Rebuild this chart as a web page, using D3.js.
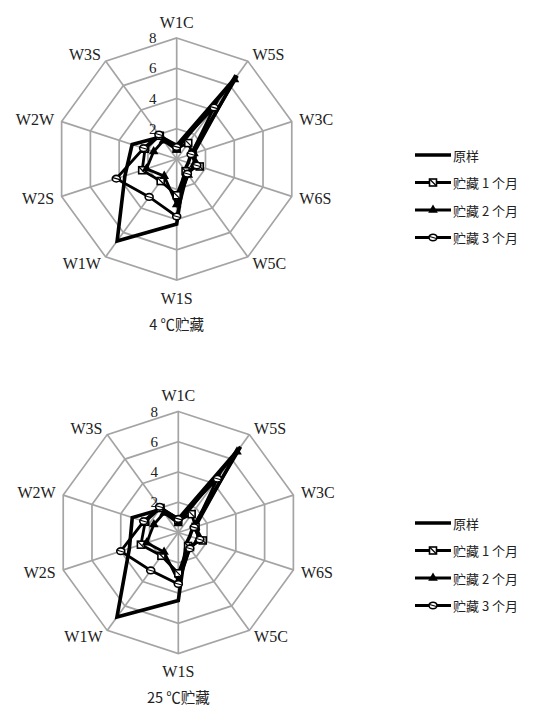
<!DOCTYPE html>
<html>
<head>
<meta charset="utf-8">
<script src="https://cdn.jsdelivr.net/npm/d3@7/dist/d3.min.js"></script>
<style>
  html, body { margin: 0; padding: 0; background: #fff; }
  svg { display: block; }
  text { font-family: "Liberation Serif", "DejaVu Serif", serif; fill: #222; }
  .cjk { font-family: "Noto Sans CJK SC", sans-serif; }
</style>
</head>
<body>
<script>
// Axes, clockwise from the top
const axes = ["W1C", "W5S", "W3C", "W6S", "W5C", "W1S", "W1W", "W2S", "W2W", "W3S"];
const seriesNames = ["原样", "贮藏 1 个月", "贮藏 2 个月", "贮藏 3 个月"];
const tickValues = [2, 4, 6, 8];
const maxValue = 8;

// 4 ℃ storage
const cold_original = [0.9, 6.8, 1.0, 0.8, 0.9, 4.3, 6.7, 3.6, 3.1, 1.8];
const cold_month1   = [0.7, 1.3, 1.1, 1.6, 1.0, 2.4, 1.8, 2.4, 2.2, 1.9];
const cold_month2   = [0.6, 6.5, 1.2, 1.2, 1.3, 3.0, 1.4, 2.1, 1.6, 1.5];
const cold_month3   = [0.8, 4.2, 1.0, 1.4, 1.2, 3.8, 3.1, 4.2, 2.3, 2.0];

// 25 ℃ storage
const warm_original = [0.9, 7.0, 1.0, 0.8, 0.9, 4.5, 6.9, 3.4, 3.2, 1.9];
const warm_month1   = [0.8, 1.5, 1.2, 1.7, 1.1, 2.7, 1.9, 2.6, 2.3, 2.0];
const warm_month2   = [0.6, 6.6, 1.2, 1.4, 1.3, 3.2, 1.6, 2.2, 1.7, 1.6];
const warm_month3   = [0.9, 4.4, 1.1, 1.5, 1.3, 3.4, 3.1, 4.0, 2.4, 2.1];

const captions = ["4 ℃贮藏", "25 ℃贮藏"];

const W = 537, H = 715;
const svg = d3.select("body").append("svg").attr("width", W).attr("height", H);

const R = 121;
const angle = d3.scaleBand().domain(axes).range([0, 2 * Math.PI]).align(0).paddingInner(0).paddingOuter(0);
const rScale = d3.scaleLinear().domain([0, maxValue]).range([0, R]);

const markerKinds = ["none", "square", "triangle", "circle"];
const lineWidths = [3.6, 2.8, 2.8, 2.8];

function drawMarker(g, kind, x, y) {
  if (kind === "square") {
    g.append("rect").attr("x", x - 3.5).attr("y", y - 3.5).attr("width", 7).attr("height", 7)
      .attr("fill", "#fff").attr("stroke", "#000").attr("stroke-width", 1.6);
    g.append("line").attr("x1", x - 3).attr("y1", y - 3).attr("x2", x + 3).attr("y2", y + 3)
      .attr("stroke", "#000").attr("stroke-width", 1.2);
  } else if (kind === "triangle") {
    g.append("path").attr("d", d3.symbol(d3.symbolTriangle, 40)())
      .attr("transform", `translate(${x},${y})`).attr("fill", "#000");
  } else if (kind === "circle") {
    g.append("ellipse").attr("cx", x).attr("cy", y).attr("rx", 4).attr("ry", 3.3)
      .attr("fill", "#fff").attr("stroke", "#000").attr("stroke-width", 1.6);
    g.append("line").attr("x1", x - 3.5).attr("y1", y - 1).attr("x2", x + 3.5).attr("y2", y + 1)
      .attr("stroke", "#000").attr("stroke-width", 1.1);
  }
}

function radar(cx, cy, seriesList, caption, legendY) {
  const g = svg.append("g").attr("transform", `translate(${cx},${cy})`);
  const pt = (i, v) => {
    const a = angle(axes[i]);
    return [Math.sin(a) * rScale(v), -Math.cos(a) * rScale(v)];
  };

  // decagon rings
  tickValues.forEach(t => {
    const path = d3.lineRadial()
      .angle(d => angle(d))
      .radius(() => rScale(t))
      .curve(d3.curveLinearClosed)(axes);
    g.append("path").attr("d", path).attr("fill", "none")
      .attr("stroke", "#a4a4a4").attr("stroke-width", 1.7);
  });

  // spokes
  axes.forEach((ax, i) => {
    const [x, y] = pt(i, maxValue);
    g.append("line").attr("x1", 0).attr("y1", 0).attr("x2", x).attr("y2", y)
      .attr("stroke", "#a4a4a4").attr("stroke-width", 1.7);
  });

  // axis names
  axes.forEach((ax, i) => {
    const a = angle(ax);
    const s = Math.sin(a), c = Math.cos(a);
    const [vx, vy] = pt(i, maxValue);
    let x = vx + s * 8;
    let y = vy - c * 8;
    if (c > 0.9) y -= 8;
    if (c < -0.9) y += 10;
    const anchor = s > 0.1 ? "start" : (s < -0.1 ? "end" : "middle");
    g.append("text").attr("x", x).attr("y", y).attr("text-anchor", anchor)
      .attr("dominant-baseline", "central").attr("font-size", 16).text(ax);
  });

  // tick labels along the top axis
  tickValues.forEach(t => {
    g.append("text").attr("x", -24).attr("y", -rScale(t))
      .attr("text-anchor", "middle").attr("dominant-baseline", "central")
      .attr("font-size", 15).text(t);
  });

  // series
  const line = d3.lineRadial()
    .angle((d, i) => angle(axes[i]))
    .radius(d => rScale(d))
    .curve(d3.curveLinearClosed);

  seriesList.forEach((vals, k) => {
    g.append("path").attr("d", line(vals)).attr("fill", "none")
      .attr("stroke", "#000").attr("stroke-width", lineWidths[k])
      .attr("stroke-linejoin", "miter").attr("stroke-miterlimit", 10);
  });
  seriesList.forEach((vals, k) => {
    if (markerKinds[k] === "none") return;
    vals.forEach((v, i) => {
      const [x, y] = pt(i, v);
      drawMarker(g, markerKinds[k], x, y);
    });
  });

  // caption
  svg.append("text").attr("class", "cjk").attr("x", cx).attr("y", cy + R + 43)
    .attr("text-anchor", "middle").attr("dominant-baseline", "central")
    .attr("font-size", 14.5).text(caption);

  // legend
  const lg = svg.append("g");
  seriesNames.forEach((name, k) => {
    const y = legendY + k * 27.5;
    lg.append("line").attr("x1", 415).attr("x2", 451).attr("y1", y).attr("y2", y)
      .attr("stroke", "#000").attr("stroke-width", lineWidths[k]);
    drawMarker(lg, markerKinds[k], 433, y);
    lg.append("text").attr("class", "cjk").attr("x", 453).attr("y", y)
      .attr("dominant-baseline", "central").attr("font-size", 13).text(name);
  });
}

radar(176.7, 159, [cold_original, cold_month1, cold_month2, cold_month3], captions[0], 155);
radar(178.3, 532.5, [warm_original, warm_month1, warm_month2, warm_month3], captions[1], 523);
</script>
</body>
</html>
